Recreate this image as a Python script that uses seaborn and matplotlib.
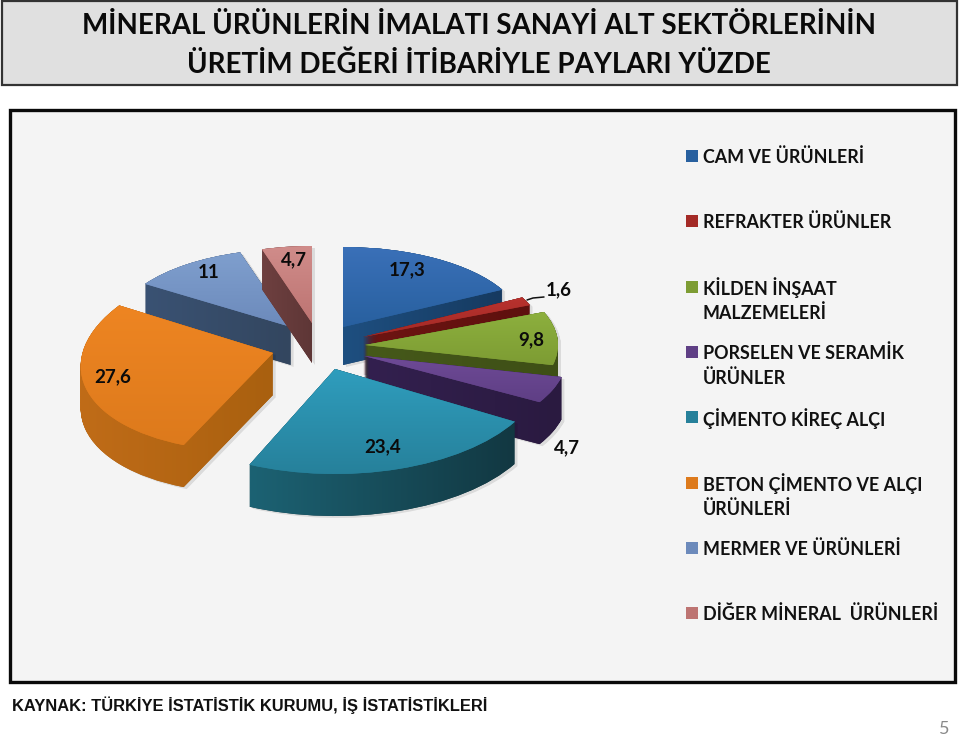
import numpy as np
import matplotlib
matplotlib.use("Agg")
import matplotlib.pyplot as plt
from matplotlib.patches import Rectangle, PathPatch
from matplotlib.path import Path
from matplotlib.transforms import Affine2D
from matplotlib.colors import to_rgb
import seaborn as sns

# ---- data ----
categories = ["CAM VE ÜRÜNLERİ", "REFRAKTER ÜRÜNLER", "KİLDEN İNŞAAT\nMALZEMELERİ",
              "PORSELEN VE SERAMİK\nÜRÜNLER", "ÇİMENTO KİREÇ ALÇI",
              "BETON ÇİMENTO VE ALÇI\nÜRÜNLERİ", "MERMER VE ÜRÜNLERİ",
              "DİĞER MİNERAL  ÜRÜNLERİ"]
values = [17.3, 1.6, 9.8, 4.7, 23.4, 27.6, 11, 4.7]
title_lines = ["MİNERAL ÜRÜNLERİN İMALATI SANAYİ ALT SEKTÖRLERİNİN",
               "ÜRETİM DEĞERİ İTİBARİYLE PAYLARI YÜZDE"]
source_text = "KAYNAK: TÜRKİYE İSTATİSTİK KURUMU, İŞ İSTATİSTİKLERİ"
page_number = "5"

# ---- style ----
top_light = ["#3A70B8", "#B8322E", "#8DB03E", "#6E4A96", "#2F9DBD", "#EE8522", "#7F9FCE", "#D08C8A"]
top_dark = ["#28609F", "#A42A26", "#7D9C33", "#5F3F85", "#26809A", "#DD7A1C", "#6C8ABB", "#BD7472"]
side_a = ["#1E4F80", "#6E1512", "#46591A", "#33204F", "#1C6273", "#C06C18", "#3A5273", "#6E4040"]
side_b = ["#163A60", "#5E100E", "#3E4F16", "#2A1A40", "#123842", "#A9600F", "#33465F", "#5E3636"]
# apex x, apex y, x-radius, y-radius, x-shear, y-shear of each exploded 3-D slice (pixels)
slice_geom = [(343, 327, 180, 80, 0, 0), (363, 337, 180, 85, 0, 0), (365, 345, 193, 88, 0, 0),
              (364, 356, 203, 92, 0, 0), (335, 369, 208, 105, 0, 0), (273, 353, 192, 97.6, -11.4, -7.6),
              (291, 327, 175, 78, 0, 0), (312, 323, 172, 77, 0, 0)]
depth = [38, 38, 38, 42, 42, 42, 38, 40]
draw_order = [0, 6, 7, 1, 2, 3, 5, 4]
label_pos = [(407, 270), (559, 290), (531, 340), (567, 448), (383, 447), (113, 377), (209, 273), (294, 260)]

sns.set_theme(style="white")
FONT = ["Lato", "Open Sans", "DejaVu Sans"]
plt.rcParams["font.family"] = FONT

fig = plt.figure(figsize=(9.6, 7.36), dpi=100, facecolor="white")
ax = fig.add_axes([0, 0, 1, 1])


def reset():
    ax.set_aspect("auto")
    ax.set_xlim(0, 960)
    ax.set_ylim(736, 0)
    ax.axis("off")


def hexrgb(c):
    return np.array(to_rgb(c))


def gradient(c1, c2, extent, vertical, clip, z):
    t = np.linspace(0, 1, 64)[:, None]
    img = (1 - t) * hexrgb(c1)[None, :] + t * hexrgb(c2)[None, :]
    img = img[:, None, :] if vertical else img[None, :, :]
    im = ax.imshow(img, extent=extent, origin="upper", aspect="auto", zorder=z, interpolation="bilinear")
    im.set_clip_path(clip)
    return im


# frames
ax.add_patch(Rectangle((2, 1), 955, 84, fc="#E0E0E0", ec="#333333", lw=1.6, zorder=1))
ax.add_patch(Rectangle((10, 110), 945, 572, fc="#F4F4F4", ec="#0A0A0A", lw=2.4, zorder=1))

# pie through the library: unit wedges, then placed on their own exploded position
palette = sns.color_palette(top_dark)
wedges, _ = ax.pie(values, startangle=90, counterclock=False, colors=palette, radius=1)
reset()

for rank, i in enumerate(draw_order):
    w = wedges[i]
    ox, oy, rx, ry, bx, cy = slice_geom[i]
    base = 10 + rank * 3
    place = Affine2D(np.array([[rx, -bx, ox], [cy, -ry, oy], [0, 0, 1]], dtype=float))

    # soft shadow + extruded side (union of shifted wedges)
    raw = w.get_path()
    layers = [raw.transformed(place + Affine2D().translate(0, d)) for d in range(0, depth[i] + 1)]
    compound = Path.make_compound_path(*layers)
    shadow = PathPatch(compound.transformed(Affine2D().translate(3, 2)), fc="#000000", ec="none",
                       alpha=0.10, zorder=base)
    ax.add_patch(shadow)
    side = PathPatch(compound, fc=side_b[i], ec="none", zorder=base + 0.5)
    ax.add_patch(side)
    xs = compound.vertices[:, 0]
    ys = compound.vertices[:, 1]
    gradient(side_a[i], side_b[i], (xs.min(), xs.max(), ys.max(), ys.min()), False, side, base + 1)

    # top face
    top = raw.transformed(place)
    w.set_transform(place + ax.transData)
    w.set_edgecolor("none")
    w.set_zorder(base + 1.5)
    tx = top.vertices[:, 0]
    ty = top.vertices[:, 1]
    gradient(top_light[i], top_dark[i], (tx.min(), tx.max(), ty.max(), ty.min()), True, w, base + 2)
reset()

# value labels
for v, (x, y) in zip(values, label_pos):
    ax.text(x, y, f"{v:g}".replace(".", ","), ha="center", va="center", fontsize=13.5,
            fontweight="bold", color="#0B0B0B", zorder=60)
ax.plot([527, 533, 544], [300, 298, 297], color="#111111", lw=1.1, zorder=60)

# legend
for i, name in enumerate(categories):
    y0 = 156 + i * 65.3
    ax.add_patch(Rectangle((686, y0 - 6), 11.5, 12, fc=top_dark[i], ec="none", zorder=60))
    for j, line in enumerate(name.split("\n")):
        ax.text(703, y0 + 1 + j * 25.5, line, ha="left", va="center", fontsize=12.9,
                fontweight="bold", color="#111111", zorder=60)

# titles and footer
for y, line in zip((26, 65), title_lines):
    ax.text(479, y, line, ha="center", va="center", fontsize=20, fontweight="bold",
            color="#0A0A0A", zorder=60)
ax.text(12, 705, source_text, ha="left", va="center", fontsize=11.9, fontweight="bold",
        family=["Liberation Sans"], color="#111111", zorder=60)
ax.text(944, 729, page_number, ha="center", va="center", fontsize=13, color="#8A8A8A", zorder=60)

reset()
fig.savefig("out.png", dpi=100, facecolor="white")
